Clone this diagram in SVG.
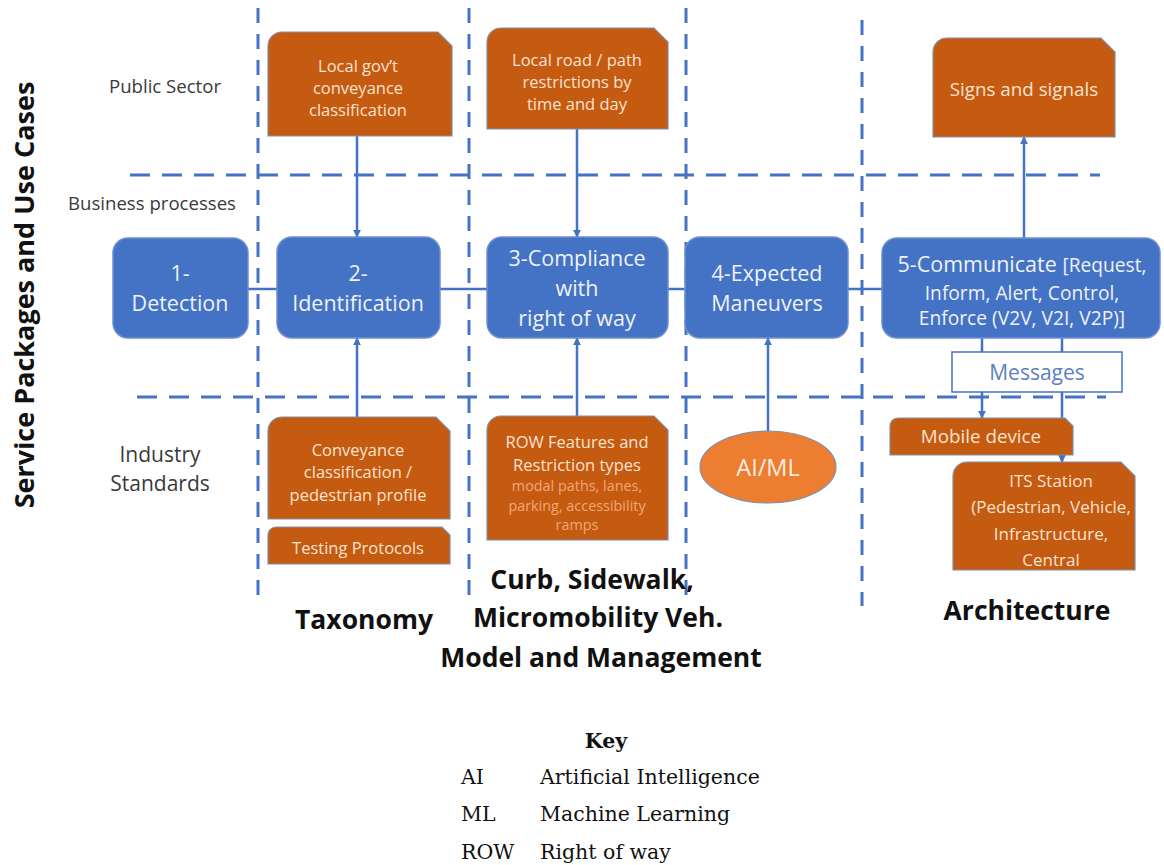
<svg xmlns="http://www.w3.org/2000/svg" width="1164" height="865" viewBox="0 0 1164 865">
  <style>
    .sans { font-family: "Open Sans", "Liberation Sans", sans-serif; }
    .serif { font-family: "DejaVu Serif", "Liberation Serif", serif; }
    .grid { stroke: #4472C4; stroke-width: 3; fill: none; }
    .vgrid { stroke-dasharray: 15 11; }
    .hgrid { stroke-dasharray: 20 12; }
    .proc { fill: #4472C4; stroke: #6c8fd0; stroke-width: 1.5; }
    .proc-t { fill: #eef2fa; font-size: 21.5px; text-anchor: middle; }
    .proc-s { font-size: 19.2px; }
    .doc { fill: #C55A11; stroke: #8190a8; stroke-width: 1.2; }
    .doc-t { fill: #fbe3d0; font-size: 16.5px; text-anchor: middle; }
    .doc-s { fill: #f0a878; font-size: 14.4px; text-anchor: middle; }
    .doc-l { font-size: 18.8px; }
    .doc-m { font-size: 17px; }
    .link { stroke: #4472C4; stroke-width: 2.5; fill: none; }
    .lane { fill: #3a3a3a; font-size: 18.6px; text-anchor: middle; }
    .lane-l { font-size: 21px; }
    .col { fill: #111; font-size: 26.5px; font-weight: bold; text-anchor: middle; }
    .key { fill: #111; font-size: 20.5px; }
  </style>
  <defs>
    <marker id="arrow" viewBox="0 0 10 10" refX="9" refY="5" markerWidth="3.2" markerHeight="3.2" orient="auto">
      <path d="M0,0 L10,5 L0,10 Z" fill="#4472C4"/>
    </marker>
  </defs>

  <rect width="1164" height="865" fill="#ffffff"/>

  <!-- lane and column separators -->
  <g id="grid">
    <line class="grid vgrid" x1="258" y1="8" x2="258" y2="596"/>
    <line class="grid vgrid" x1="469" y1="8" x2="469" y2="600"/>
    <line class="grid vgrid" x1="686" y1="8" x2="686" y2="600"/>
    <line class="grid vgrid" x1="862" y1="20" x2="862" y2="606"/>
    <line class="grid hgrid" x1="130" y1="175" x2="1100" y2="175"/>
    <line class="grid hgrid" x1="137" y1="397" x2="1106" y2="397"/>
  </g>

  <!-- lane labels -->
  <g id="lane-labels" class="sans">
    <text x="27" y="295" transform="rotate(-90 27 295)" text-anchor="middle" font-size="27" font-weight="bold" fill="#111" dominant-baseline="middle">Service Packages and Use Cases</text>
    <text class="lane" x="165" y="93">Public Sector</text>
    <text class="lane" x="152" y="210">Business processes</text>
    <text class="lane lane-l" x="160" y="462">Industry</text>
    <text class="lane lane-l" x="160" y="491">Standards</text>
  </g>

  <!-- connectors -->
  <g id="connectors">
    <line class="link" x1="248" y1="289" x2="882" y2="289"/>
    <line class="link" x1="357" y1="136" x2="357" y2="237" marker-end="url(#arrow)"/>
    <line class="link" x1="357" y1="417" x2="357" y2="338" marker-end="url(#arrow)"/>
    <line class="link" x1="577" y1="129" x2="577" y2="237" marker-end="url(#arrow)"/>
    <line class="link" x1="577" y1="416" x2="577" y2="338" marker-end="url(#arrow)"/>
    <line class="link" x1="768" y1="431" x2="768" y2="338" marker-end="url(#arrow)"/>
    <line class="link" x1="1024" y1="238" x2="1024" y2="137" marker-end="url(#arrow)"/>
    <line class="link" x1="982" y1="338" x2="982" y2="418" marker-end="url(#arrow)"/>
    <line class="link" x1="1062" y1="338" x2="1062" y2="462" marker-end="url(#arrow)"/>
  </g>

  <!-- business process nodes -->
  <g id="detection" class="sans">
    <rect class="proc" x="113" y="238" width="135" height="100" rx="15"/>
    <text class="proc-t" x="180" y="281">1-</text>
    <text class="proc-t" x="180" y="311">Detection</text>
  </g>
  <g id="identification" class="sans">
    <rect class="proc" x="277" y="237" width="163" height="101" rx="15"/>
    <text class="proc-t" x="358" y="281">2-</text>
    <text class="proc-t" x="358" y="311">Identification</text>
  </g>
  <g id="compliance" class="sans">
    <rect class="proc" x="487" y="237" width="181" height="101" rx="15"/>
    <text class="proc-t" x="577" y="266">3-Compliance</text>
    <text class="proc-t" x="577" y="296">with</text>
    <text class="proc-t" x="577" y="326">right of way</text>
  </g>
  <g id="maneuvers" class="sans">
    <rect class="proc" x="685" y="237" width="163" height="101" rx="15"/>
    <text class="proc-t" x="767" y="281">4-Expected</text>
    <text class="proc-t" x="767" y="311">Maneuvers</text>
  </g>
  <g id="communicate" class="sans">
    <rect class="proc" x="882" y="238" width="278" height="100" rx="15"/>
    <text class="proc-t" x="1022" y="272"><tspan>5-Communicate </tspan><tspan class="proc-s">[Request,</tspan></text>
    <text class="proc-t proc-s" x="1022" y="300">Inform, Alert, Control,</text>
    <text class="proc-t proc-s" x="1022" y="325">Enforce (V2V, V2I, V2P)]</text>
  </g>
  <g id="messages" class="sans">
    <rect x="952" y="352" width="170" height="40" fill="#ffffff" stroke="#4472C4" stroke-width="1.5"/>
    <text x="1037" y="380" font-size="21" text-anchor="middle" fill="#5b7fc4">Messages</text>
  </g>

  <!-- public sector nodes -->
  <g id="local-gov" class="sans">
    <path class="doc" d="M268,136 V46 A14,14 0 0 1 282,32 H438 L452,46 V136 Z"/>
    <text class="doc-t" x="358" y="72">Local gov’t</text>
    <text class="doc-t" x="358" y="94">conveyance</text>
    <text class="doc-t" x="358" y="116">classification</text>
  </g>
  <g id="local-road" class="sans">
    <path class="doc" d="M487,129 V42 A14,14 0 0 1 501,28 H654 L668,42 V129 Z"/>
    <text class="doc-t" x="577" y="66">Local road / path</text>
    <text class="doc-t" x="577" y="88">restrictions by</text>
    <text class="doc-t" x="577" y="110">time and day</text>
  </g>
  <g id="signs" class="sans">
    <path class="doc" d="M933,137 V52 A14,14 0 0 1 947,38 H1101 L1115,52 V137 Z"/>
    <text class="doc-t doc-l" x="1024" y="96">Signs and signals</text>
  </g>

  <!-- industry standards nodes -->
  <g id="conveyance" class="sans">
    <path class="doc" d="M268,519 V431 A14,14 0 0 1 282,417 H436 L450,431 V519 Z"/>
    <text class="doc-t" x="358" y="456">Conveyance</text>
    <text class="doc-t" x="358" y="478">classification /</text>
    <text class="doc-t" x="358" y="501">pedestrian profile</text>
  </g>
  <g id="testing" class="sans">
    <path class="doc" d="M268,564 V535 A8,8 0 0 1 276,527 H442 L450,535 V564 Z"/>
    <text class="doc-t" x="358" y="554">Testing Protocols</text>
  </g>
  <g id="row-features" class="sans">
    <path class="doc" d="M487,540 V430 A14,14 0 0 1 501,416 H654 L668,430 V540 Z"/>
    <text class="doc-t" x="577" y="448">ROW Features and</text>
    <text class="doc-t" x="577" y="471">Restriction types</text>
    <text class="doc-s" x="577" y="491">modal paths, lanes,</text>
    <text class="doc-s" x="577" y="511">parking, accessibility</text>
    <text class="doc-s" x="577" y="530">ramps</text>
  </g>
  <g id="ai-ml" class="sans">
    <ellipse cx="768" cy="467" rx="68" ry="36" fill="#ED7D31" stroke="#8190a8" stroke-width="1.2"/>
    <text x="768" y="476" font-size="23.5" text-anchor="middle" fill="#fdeee2">AI/ML</text>
  </g>
  <g id="mobile" class="sans">
    <path class="doc" d="M890,455 V426 A8,8 0 0 1 898,418 H1065 L1073,426 V455 Z"/>
    <text class="doc-t doc-l" x="981" y="443">Mobile device</text>
  </g>
  <g id="its-station" class="sans">
    <path class="doc" d="M953,570 V476 A14,14 0 0 1 967,462 H1121 L1135,476 V570 Z"/>
    <text class="doc-t doc-m" x="1051" y="487">ITS Station</text>
    <text class="doc-t doc-m" x="1051" y="513">(Pedestrian, Vehicle,</text>
    <text class="doc-t doc-m" x="1051" y="540">Infrastructure,</text>
    <text class="doc-t doc-m" x="1051" y="566">Central</text>
  </g>

  <!-- column titles -->
  <g id="column-titles" class="sans">
    <text class="col" x="364" y="629">Taxonomy</text>
    <text class="col" x="592" y="589">Curb, Sidewalk,</text>
    <text class="col" x="598" y="627">Micromobility Veh.</text>
    <text class="col" x="601" y="667">Model and Management</text>
    <text class="col" x="1027" y="620">Architecture</text>
  </g>

  <!-- abbreviations -->
  <g id="key" class="serif">
    <text class="key" x="606" y="748" text-anchor="middle" font-weight="bold">Key</text>
    <text class="key" x="461" y="784">AI</text>
    <text class="key" x="540" y="784">Artificial Intelligence</text>
    <text class="key" x="461" y="821">ML</text>
    <text class="key" x="540" y="821">Machine Learning</text>
    <text class="key" x="461" y="859">ROW</text>
    <text class="key" x="540" y="859">Right of way</text>
  </g>
</svg>
